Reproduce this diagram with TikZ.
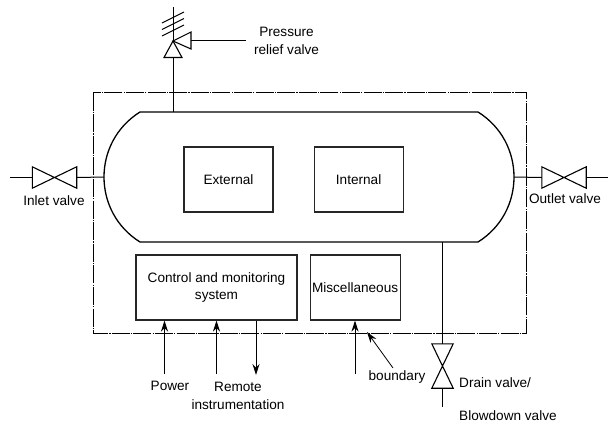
\documentclass[tikz,border=0pt]{standalone}
\usepackage{fontspec}
\setmainfont{Liberation Sans}
\usetikzlibrary{positioning,arrows.meta}
\tikzstyle{block}=[
	rectangle,
	draw=black!85,
	line width=1.1pt,
	text centered,
	text=black,
	inner sep=0pt]
\tikzstyle{valve}=[
	rectangle,
	minimum width=44pt,
	minimum height=21pt,
	inner sep=0pt,
	append after command={
		\pgfextra{\draw[line width=1.1pt] (\tikzlastnode.north west) -- (\tikzlastnode.south east) -- (\tikzlastnode.north east) -- (\tikzlastnode.south west) -- cycle;}
	}]
\tikzstyle{signal}=[line width=1pt,-{Stealth[length=11pt,width=7pt]}]
\tikzstyle{pipe}=[line width=1pt]
\tikzstyle{label}=[align=center,inner sep=0pt,text=black]

\begin{document}
\begin{tikzpicture}[x=1pt,y=-1pt,font=\fontsize{13.6}{17.5}\selectfont]

		\useasboundingbox (0,0) rectangle (616,432);

		% boundary
		\draw[line width=0.9pt, dash pattern=on 18pt off 1.2pt on 1.2pt off 1.2pt] (93,92.5) rectangle (526,333);

		% vessel
		\coordinate (VesselLeft) at (104,177);
		\coordinate (VesselRight) at (514,177);
		\coordinate (VesselTop) at (173,112);
		\coordinate (VesselBottom) at (442.5,242);
		\draw[line width=1.3pt] (140,112) -- (478,112) .. controls (526,142) and (526,212) .. (478,242) -- (140,242) .. controls (92,212) and (92,142) .. (140,112) -- cycle;

		\node (External) [block, minimum width=89pt, minimum height=65pt] at (228.5,179.5) {External};
		\node (Internal) [block, minimum width=89pt, minimum height=65pt, right=40pt of External] {Internal};
		\node (Control) [block, minimum width=161pt, minimum height=65pt, align=center] at (216.5,287.5) {Control and monitoring\\system};
		\node (Miscellaneous) [block, minimum width=90pt, minimum height=65pt, right=12pt of Control] {Miscellaneous};

		% valves
		\node (InletValve) [valve] at (54.5,177.5) {};
		\node (OutletValve) [valve] at (564,177.5) {};
		\node (DrainValve) [valve, rotate=90] at (442.5,366) {};

		\coordinate (InletEnd) at (10,177.5);
		\coordinate (OutletEnd) at (608,177.5);
		\coordinate (DrainEnd) at (442.5,407);
		\draw[pipe] (InletEnd) -- (InletValve.west);
		\draw[pipe] (InletValve.east) -- (VesselLeft);
		\draw[pipe] (VesselRight) -- (OutletValve.west);
		\draw[pipe] (OutletValve.east) -- (OutletEnd);
		\draw[pipe] (VesselBottom) -- (DrainValve.east);
		\draw[pipe] (DrainValve.west) -- (DrainEnd);

		% relief valve
		\coordinate (ReliefCentre) at (173,41);
		\coordinate (ReliefTop) at (173,7);
		\coordinate (ReliefSide) at (191,40.5);
		\coordinate (ReliefLead) at (246,40.5);
		\draw[pipe] (VesselTop) -- (173,57);
		\draw[pipe] (ReliefCentre) -- (ReliefTop);
		\draw[line width=1.1pt] (ReliefCentre) -- (164,57.5) -- (182,57.5) -- cycle;
		\draw[line width=1.1pt] (ReliefCentre) -- (191,32) -- (191,49) -- cycle;
		\draw[pipe] (ReliefSide) -- (ReliefLead);
		\foreach \y in {0,6.5,13}
			\draw[pipe] (162,23+\y) -- (184,12+\y);

		% signals
		\coordinate (PowerEnd) at (164.5,374);
		\coordinate (RemoteInEnd) at (216.5,374);
		\coordinate (RemoteOutEnd) at (256,375);
		\coordinate (MiscEnd) at (355,374);
		\draw[signal] (PowerEnd) -- (PowerEnd |- Control.south);
		\draw[signal] (RemoteInEnd) -- (RemoteInEnd |- Control.south);
		\draw[signal] (RemoteOutEnd |- Control.south) -- (RemoteOutEnd);
		\draw[signal] (MiscEnd) -- (MiscEnd |- Miscellaneous.south);

		% labels
		\node (PressureLabel) [label] at (286.5,41) {Pressure\\relief valve};
		\node (InletLabel) [label] at (54,200.5) {Inlet valve};
		\node (OutletLabel) [label] at (565,199) {Outlet valve};
		\node (PowerLabel) [label] at (170,386) {Power};
		\node (RemoteLabel) [label] at (238,396) {Remote\\instrumentation};
		\node (BoundaryLabel) [label] at (397,377) {boundary};
		\node (DrainLabel) [label, anchor=west] at (459,383) {Drain valve/};
		\node (BlowdownLabel) [label, anchor=west] at (459,416) {Blowdown valve};

		\coordinate (BoundaryTip) at (367,332);
		\draw[signal, line width=0.8pt] (393,368) -- (BoundaryTip);

\end{tikzpicture}
\end{document}
